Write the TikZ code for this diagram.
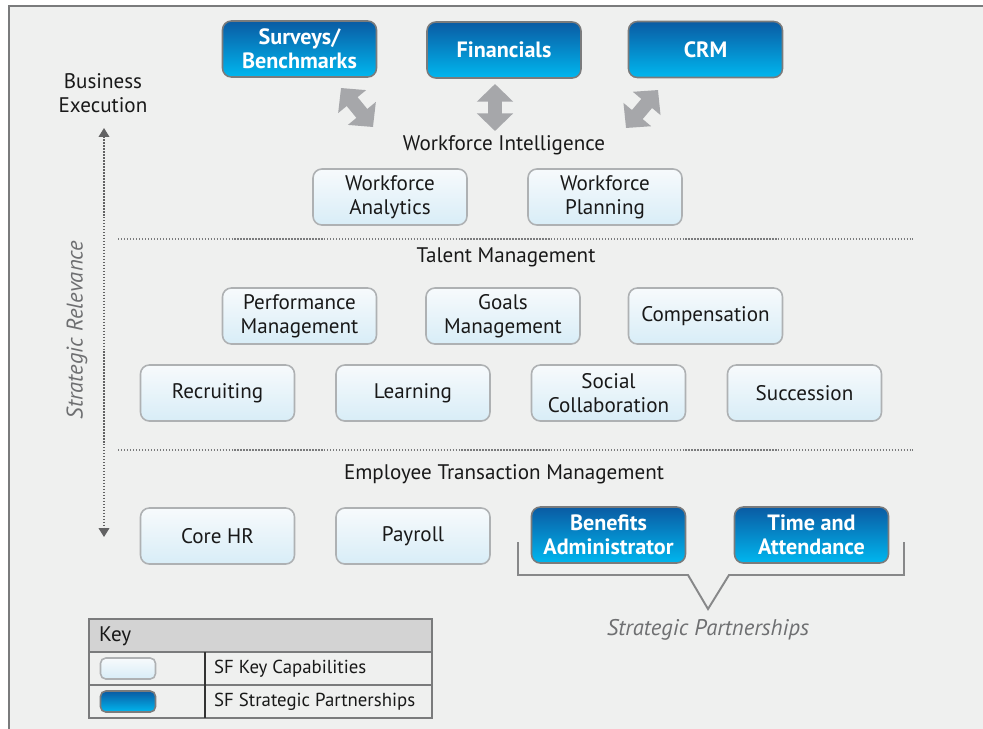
\documentclass[tikz,border=0pt]{standalone}
\usepackage{fontspec}
\setmainfont{PT Sans}
\usetikzlibrary{arrows.meta,positioning}

\definecolor{pagebg}{HTML}{EFF0EF}
\definecolor{framegray}{HTML}{7A7B7C}
\definecolor{bluetop}{HTML}{0A5BA3}
\definecolor{bluebot}{HTML}{00B7EF}
\definecolor{paletop}{HTML}{F7FAFC}
\definecolor{palebot}{HTML}{D8EDF7}
\definecolor{boxedge}{HTML}{AEB1B3}
\definecolor{arrowgray}{HTML}{A6A7AA}
\definecolor{textgray}{HTML}{6E6F71}
\definecolor{keyhead}{HTML}{D3D3D3}

\tikzset{
  capbox/.style={rounded corners=5pt, draw=boxedge, line width=0.9pt,
    top color=paletop, bottom color=palebot, minimum width=3.08cm,
    minimum height=1.12cm, align=center, text=black!90,
    font=\fontsize{12}{13.7}\selectfont},
  partbox/.style={capbox, draw=framegray, top color=bluetop,
    bottom color=bluebot, text=white, font=\bfseries\fontsize{12.6}{13.7}\selectfont},
  head/.style={font=\fontsize{12}{13.7}\selectfont, text=black!90, align=center},
  slanted/.style={text=textgray, font=\itshape\fontsize{12.9}{14}\selectfont},
  fatarrow/.style={arrowgray, line width=8pt,
    {Triangle[width=20pt,length=10pt]}-{Triangle[width=20pt,length=10pt]}},
  sepline/.style={framegray, line width=0.8pt, dash pattern=on 0.8pt off 0.9pt}
}

\begin{document}
\begin{tikzpicture}[x=0.02cm, y=-0.02cm]
	\useasboundingbox (0,0) rectangle (983,728);
	\fill[pagebg] (9,6) rectangle (995,740);
	\draw[framegray, line width=1pt] (9,740) -- (9,6) -- (995,6);

	% partner systems
	\node (surveys) [partbox] at (299.5,49) {Surveys/\\Benchmarks};
	\node (financials) [partbox] at (504,50) {Financials};
	\node (crm) [partbox] at (705.5,49.5) {CRM};

	\coordinate (sa) at (341,88);
	\coordinate (sb) at (373,127);
	\coordinate (fa) at (495,84);
	\coordinate (fb) at (495,131);
	\coordinate (ca) at (658,90);
	\coordinate (cb) at (626,128);
	\draw [fatarrow] (sa) -- (sb);
	\draw [fatarrow] (fa) -- (fb);
	\draw [fatarrow] (ca) -- (cb);

	% workforce intelligence
	\node (wfint) [head] at (504,145) {Workforce Intelligence};
	\node (wfanal) [capbox] at (390,197) {Workforce\\Analytics};
	\node (wfplan) [capbox] at (605,197) {Workforce\\Planning};

	\coordinate (sepaL) at (118,239);
	\coordinate (sepaR) at (913,239);
	\draw [sepline] (sepaL) -- (sepaR);

	% talent management
	\node (talent) [head] at (506,257) {Talent Management};
	\node (perf) [capbox] at (299.5,316) {Performance\\Management};
	\node (goals) [capbox] at (503,316) {Goals\\Management};
	\node (comp) [capbox] at (705.5,316) {Compensation};
	\node (recruit) [capbox] at (217.5,393) {Recruiting};
	\node (learn) [capbox] at (413,393) {Learning};
	\node (social) [capbox] at (608.5,393) {Social\\Collaboration};
	\node (success) [capbox] at (804.5,393) {Succession};

	\coordinate (sepbL) at (118,450);
	\coordinate (sepbR) at (913,450);
	\draw [sepline] (sepbL) -- (sepbR);

	% employee transaction management
	\node (etm) [head] at (504,474) {Employee Transaction Management};
	\node (corehr) [capbox] at (217.5,536) {Core HR};
	\node (payroll) [capbox] at (413,536) {Payroll};
	\node (benefits) [partbox] at (608.5,535) {Benefits\\Administrator};
	\node (timeatt) [partbox] at (811.5,535) {Time and\\Attendance};

	% bracket under the partnerships
	\coordinate (brL) at (518,542);
	\coordinate (brR) at (904,542);
	\coordinate (apex) at (708,609);
	\draw [framegray!90, line width=1.1pt] (brL) -- (518,575) -- (688,575) -- (apex)
		-- (729,575) -- (904,575) -- (brR);
	\node (strpart) [slanted] at (708,630) {Strategic Partnerships};

	% strategic relevance axis
	\node (busexec) [head] at (103,93) {Business\\Execution};
	\coordinate (axtop) at (104,128);
	\coordinate (axbot) at (104,537);
	\draw [framegray!80!black, line width=0.8pt, dash pattern=on 0.8pt off 0.9pt,
		{Triangle[width=6pt,length=5pt]}-{Triangle[width=6pt,length=5pt]}] (axtop) -- (axbot);
	\node (strrel) [rotate=90, slanted] at (77,330) {Strategic Relevance};

	% key
	\fill[keyhead] (89,619) rectangle (432,652);
	\draw[framegray, line width=0.9pt] (89,619) rectangle (432,718);
	\draw[framegray, line width=0.9pt] (89,652) -- (432,652);
	\draw[framegray, line width=0.9pt] (89,685) -- (432,685);
	\draw[black!80, line width=0.8pt] (205,652) -- (205,718);
	\node (keytitle) [head, anchor=west] at (93,636) {Key};
	\node (keycap) [capbox, minimum width=1.1cm, minimum height=0.42cm, rounded corners=3pt]
		at (128,668.5) {};
	\node (keypart) [partbox, minimum width=1.1cm, minimum height=0.42cm, rounded corners=3pt]
		at (128,701.5) {};
	\node (keycaptext) [head, anchor=west, font=\fontsize{10.7}{12}\selectfont]
		at (208,668.5) {SF Key Capabilities};
	\node (keyparttext) [head, anchor=west, font=\fontsize{10.7}{12}\selectfont]
		at (208,701.5) {SF Strategic Partnerships};
\end{tikzpicture}
\end{document}
